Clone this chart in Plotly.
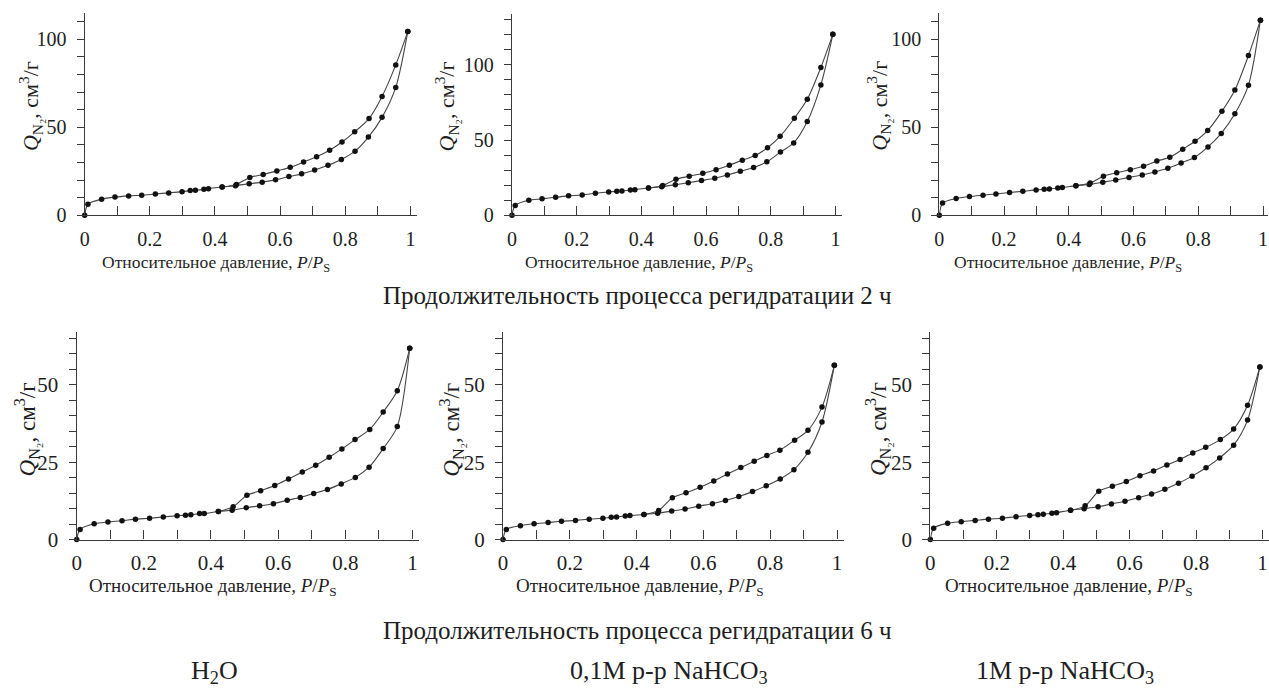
import plotly.graph_objects as go

# Relative pressure points (adsorption and desorption branches)
P_ADS = [0, 0.01, 0.052, 0.093, 0.135, 0.175, 0.217, 0.258, 0.299, 0.324, 0.34, 0.366, 0.38,
         0.422, 0.463, 0.505, 0.545, 0.586, 0.627, 0.666, 0.706, 0.747, 0.788, 0.83, 0.871,
         0.913, 0.955, 0.992]
P_DES = [0.992, 0.955, 0.913, 0.873, 0.829, 0.79, 0.752, 0.712, 0.672, 0.631, 0.59, 0.548,
         0.507, 0.466, 0.422]

# Adsorbed N2 volume, cm3/g — rehydration 2 h
Q_H2O_2H_ADS = [0, 6.3, 9.1, 10.3, 11.0, 11.4, 12.1, 12.7, 13.4, 14.0, 14.2, 14.7, 15.1, 16.0,
                16.8, 17.9, 18.8, 20.1, 22.0, 23.5, 25.7, 28.4, 31.7, 36.4, 44.4, 55.6, 72.6, 104.3]
Q_H2O_2H_DES = [104.3, 85.4, 67.4, 54.9, 47.4, 41.6, 36.9, 33.2, 30.2, 27.2, 25.2, 23.1, 21.5,
                17.5, 16.0]
Q_01M_2H_ADS = [0, 6.5, 10.0, 10.9, 12.0, 12.9, 13.5, 14.6, 15.5, 15.9, 16.1, 16.8, 17.0, 18.1,
                19.0, 20.3, 21.6, 23.1, 24.6, 26.8, 29.2, 31.8, 35.5, 42.0, 48.1, 62.3, 86.7, 120.3]
Q_01M_2H_DES = [120.3, 98.3, 77.1, 64.5, 52.5, 44.9, 39.7, 36.6, 33.3, 30.3, 27.9, 25.9, 24.0,
                19.8, 18.1]
Q_1M_2H_ADS = [0, 6.9, 9.5, 10.6, 11.4, 12.1, 12.9, 13.6, 14.4, 14.7, 14.9, 15.5, 15.7, 16.8,
               17.5, 18.8, 20.0, 21.5, 22.9, 24.6, 26.7, 29.7, 32.8, 38.8, 46.5, 57.6, 73.9, 110.8]
Q_1M_2H_DES = [110.8, 90.7, 71.1, 59.0, 48.1, 42.0, 37.5, 32.9, 30.8, 27.8, 25.9, 24.1, 22.2,
               18.3, 16.8]

# Adsorbed N2 volume, cm3/g — rehydration 6 h
Q_H2O_6H_ADS = [0, 3.3, 5.1, 5.7, 6.1, 6.6, 6.9, 7.3, 7.7, 7.9, 8.0, 8.4, 8.4, 9.1, 9.5, 10.3,
                10.9, 11.6, 12.7, 13.6, 14.9, 16.2, 18.0, 20.1, 23.4, 29.4, 36.5, 61.8]
Q_H2O_6H_DES = [61.8, 48.1, 41.2, 35.6, 32.3, 29.3, 26.6, 24.0, 21.8, 19.6, 17.5, 15.8, 14.3,
                10.6, 9.1]
Q_01M_6H_ADS = [0, 3.3, 4.5, 5.1, 5.5, 5.9, 6.2, 6.6, 6.9, 7.2, 7.3, 7.6, 7.8, 8.1, 8.5, 9.2,
                9.9, 10.8, 11.6, 12.6, 13.9, 15.5, 17.4, 19.6, 22.6, 28.2, 38.0, 56.3]
Q_01M_6H_DES = [56.3, 42.8, 35.3, 32.1, 28.9, 27.2, 25.3, 23.3, 21.2, 18.9, 16.9, 15.1, 13.5,
                9.4, 8.1]
Q_1M_6H_ADS = [0, 3.7, 5.3, 5.8, 6.2, 6.6, 6.9, 7.4, 7.8, 8.0, 8.2, 8.5, 8.7, 9.5, 10.0, 10.6,
               11.5, 12.4, 13.5, 14.7, 16.3, 18.2, 20.5, 23.2, 26.4, 30.5, 38.6, 55.8]
Q_1M_6H_DES = [55.8, 43.4, 35.7, 32.3, 29.8, 28.0, 25.9, 24.1, 22.2, 20.6, 18.8, 17.2, 15.6,
               10.9, 9.5]

X_TICKS = [0, 0.2, 0.4, 0.6, 0.8, 1]
X_TICK_TEXT = ["0", "0.2", "0.4", "0.6", "0.8", "1"]

CAPTION_2H = "Продолжительность процесса регидратации 2 ч"
CAPTION_6H = "Продолжительность процесса регидратации 6 ч"
SAMPLE_LABELS = ["H<sub>2</sub>O", "0,1M р-р NaHCO<sub>3</sub>", "1M р-р NaHCO<sub>3</sub>"]
X_TITLE = "Относительное давление, <i>P</i>/<i>P</i><sub>S</sub>"
Y_TITLE = "<i>Q</i><sub>N₂</sub>, см<sup>3</sup>/г"

W, H = 1269, 700
FONT = "'Liberation Serif', 'Times New Roman', serif"
TXT = "#1e1e1e"
AXC = "#3a3a3a"

# panel layout in pixels: x of P=0, px per unit P, x max, y of Q=0, y max, top pixel,
# major/minor y step, tick font size, x tick label standoff
panels = [
    dict(ads=Q_H2O_2H_ADS, des=Q_H2O_2H_DES, x0=80, kx=327, xmax=1.02, y0=219, ymax=115,
         top=13, ymaj=50, ymin=10, fs=20, xstand=6),
    dict(ads=Q_01M_2H_ADS, des=Q_01M_2H_DES, x0=509, kx=324.7, xmax=1.02, y0=219, ymax=134,
         top=14, ymaj=50, ymin=10, fs=20, xstand=6),
    dict(ads=Q_1M_2H_ADS, des=Q_1M_2H_DES, x0=938, kx=325, xmax=1.015, y0=219, ymax=115,
         top=13, ymaj=50, ymin=10, fs=20, xstand=6),
    dict(ads=Q_H2O_6H_ADS, des=Q_H2O_6H_DES, x0=72, kx=337, xmax=1.02, y0=549, ymax=67,
         top=338, ymaj=25, ymin=5, fs=21, xstand=4),
    dict(ads=Q_01M_6H_ADS, des=Q_01M_6H_DES, x0=500, kx=335.3, xmax=1.02, y0=549, ymax=67,
         top=338, ymaj=25, ymin=5, fs=21, xstand=4),
    dict(ads=Q_1M_6H_ADS, des=Q_1M_6H_DES, x0=929, kx=333.5, xmax=1.02, y0=549, ymax=67,
         top=338, ymaj=25, ymin=5, fs=21, xstand=4),
]

fig = go.Figure()
layout = {}
annotations = []

for i, p in enumerate(panels, start=1):
    xa = "x" if i == 1 else f"x{i}"
    ya = "y" if i == 1 else f"y{i}"
    for qs, ps in ((p["ads"], P_ADS), (p["des"], P_DES)):
        fig.add_trace(go.Scatter(
            x=ps, y=qs, xaxis=xa, yaxis=ya, mode="lines+markers",
            line=dict(color="#444444", width=1.1, shape="spline", smoothing=0.8),
            marker=dict(color="#111111", size=5.5),
            cliponaxis=False, showlegend=False, hoverinfo="skip"))

    x1 = min(p["x0"] + p["xmax"] * p["kx"], W)
    xd = [p["x0"] / W, x1 / W]
    xr = (x1 - p["x0"]) / p["kx"]
    yd = [1 - p["y0"] / H, 1 - p["top"] / H]
    key = "" if i == 1 else str(i)
    layout[f"xaxis{key}"] = dict(
        domain=xd, range=[0, xr], anchor=ya, showgrid=False, zeroline=False,
        showline=True, linecolor=AXC, linewidth=1.3,
        tickmode="array", tickvals=X_TICKS, ticktext=X_TICK_TEXT,
        ticks="inside", ticklen=9, tickwidth=1.2, tickcolor=AXC,
        ticklabelstandoff=p["xstand"],
        minor=dict(dtick=0.1, tick0=0, ticks="inside", ticklen=9, tickwidth=1.2, tickcolor=AXC),
        tickfont=dict(family=FONT, size=p["fs"], color=TXT), fixedrange=True)
    layout[f"yaxis{key}"] = dict(
        domain=yd, range=[0, p["ymax"]], anchor=xa, showgrid=False, zeroline=False,
        showline=True, linecolor=AXC, linewidth=1.3,
        dtick=p["ymaj"], tick0=0, ticks="outside", ticklen=7, tickwidth=1.2, tickcolor=AXC,
        ticklabelstandoff=6,
        minor=dict(dtick=p["ymin"], tick0=0, ticks="outside", ticklen=7, tickwidth=1.2,
                   tickcolor=AXC),
        tickfont=dict(family=FONT, size=p["fs"], color=TXT), fixedrange=True)

# axis titles as positioned text
x_title_pos = [(212, 268), (637, 268), (1067, 268), (209, 597), (638, 597), (1068, 597)]
y_title_pos = [(25, 108), (443, 108), (877, 108), (22, 437), (448, 437), (876, 437)]
for j, ((tx, ty), (ux, uy)) in enumerate(zip(x_title_pos, y_title_pos)):
    annotations.append(dict(text=X_TITLE, x=tx / W, y=1 - ty / H, xref="paper", yref="paper",
                            showarrow=False, xanchor="center", yanchor="middle",
                            font=dict(family=FONT, size=17.5 if j < 3 else 19, color=TXT)))
    annotations.append(dict(text=Y_TITLE, x=ux / W, y=1 - uy / H, xref="paper", yref="paper",
                            showarrow=False, xanchor="center", yanchor="middle", textangle=-90,
                            font=dict(family=FONT, size=22 if j < 3 else 23, color=TXT)))

for text, cy in ((CAPTION_2H, 301), (CAPTION_6H, 641)):
    annotations.append(dict(text=text, x=635 / W, y=1 - cy / H, xref="paper", yref="paper",
                            showarrow=False, xanchor="center", yanchor="middle",
                            font=dict(family=FONT, size=25, color=TXT)))

for text, cx in zip(SAMPLE_LABELS, (210, 667, 1064)):
    annotations.append(dict(text=text, x=cx / W, y=1 - 684 / H, xref="paper", yref="paper",
                            showarrow=False, xanchor="center", yanchor="middle",
                            font=dict(family=FONT, size=26, color=TXT)))

fig.update_layout(
    width=W, height=H, margin=dict(l=0, r=0, t=0, b=0),
    paper_bgcolor="white", plot_bgcolor="white", annotations=annotations, **layout)

fig.write_html("out.html", config={"displayModeBar": False})
